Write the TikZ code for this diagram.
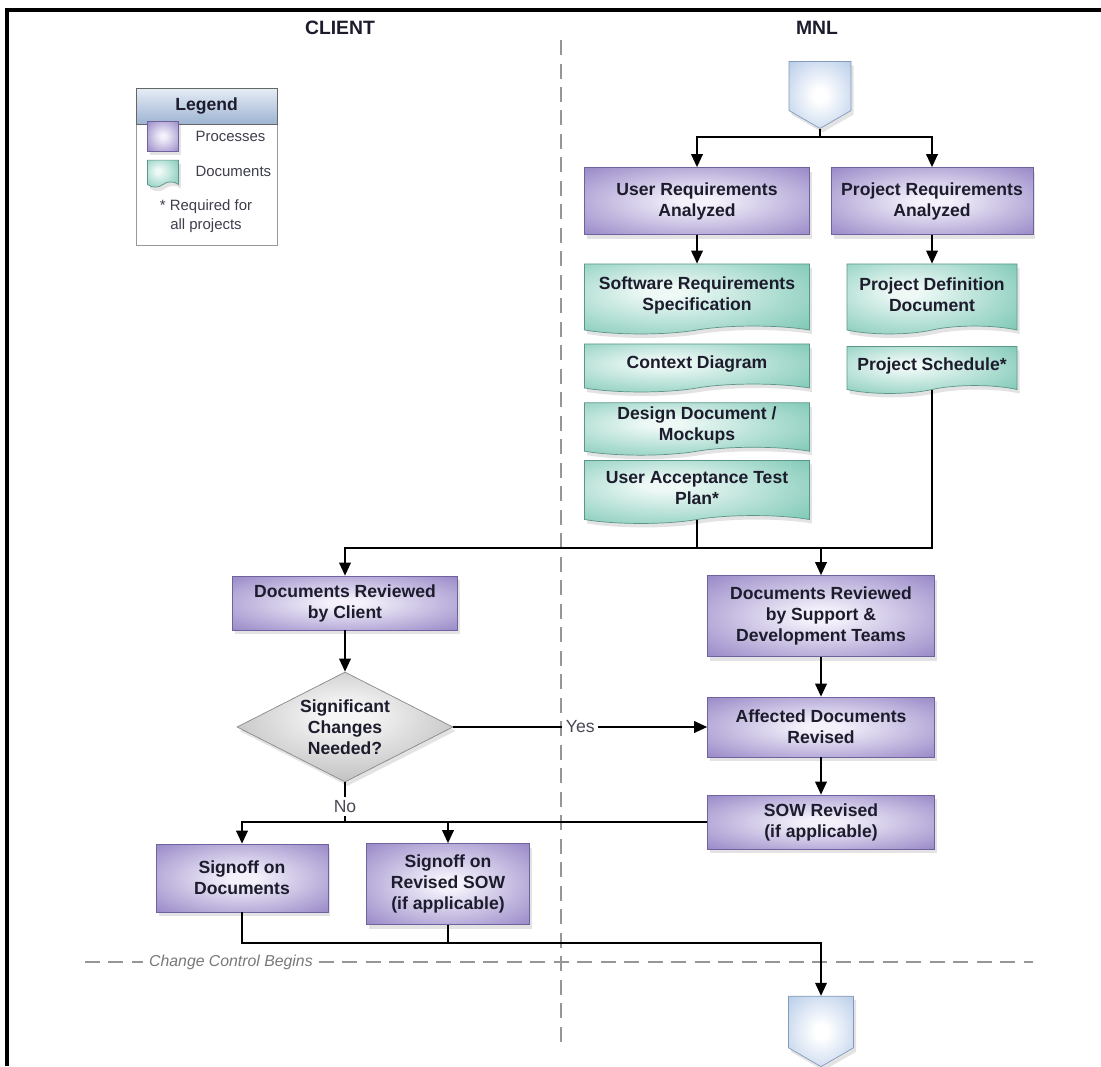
\documentclass[tikz,border=0pt]{standalone}
\usepackage{fontspec}
\setmainfont{Liberation Sans}
\usetikzlibrary{arrows.meta,positioning,calc,shapes.geometric,shapes.symbols,shadows}
\definecolor{procout}{RGB}{140,122,192}
\definecolor{procin}{RGB}{244,241,251}
\definecolor{procline}{RGB}{112,98,158}
\definecolor{docout}{RGB}{112,194,174}
\definecolor{docin}{RGB}{238,249,246}
\definecolor{docline}{RGB}{92,150,136}
\definecolor{qout}{RGB}{160,160,160}
\definecolor{qin}{RGB}{246,246,246}
\definecolor{termout}{RGB}{160,188,226}
\definecolor{termline}{RGB}{132,154,186}
\definecolor{lanecol}{RGB}{150,150,150}
\definecolor{ink}{RGB}{28,28,45}
\definecolor{hdtop}{RGB}{230,237,246}
\definecolor{hdbot}{RGB}{158,180,210}
\pgfdeclareradialshading{procglow}{\pgfpoint{0bp}{0bp}}{color(0bp)=(procin); color(4bp)=(procin); color(40bp)=(procout); color(75bp)=(procout)}
\pgfdeclareradialshading{docglow}{\pgfpoint{-8bp}{6bp}}{color(0bp)=(docin); color(4bp)=(docin); color(42bp)=(docout); color(75bp)=(docout)}
\pgfdeclareradialshading{qglow}{\pgfpoint{0bp}{6bp}}{color(0bp)=(qin); color(5bp)=(qin); color(44bp)=(qout); color(75bp)=(qout)}
\pgfdeclareradialshading{termglow}{\pgfpoint{0bp}{0bp}}{color(0bp)=(white); color(5bp)=(white); color(46bp)=(termout); color(75bp)=(termout)}
\tikzset{
  dshadow/.style={drop shadow={opacity=.22, shadow xshift=.5mm, shadow yshift=-.8mm}},
  proc/.style={rectangle, draw=procline, shading=procglow, dshadow, align=center, text=ink, font=\fontsize{10}{12}\selectfont\bfseries, minimum width=#1, inner sep=2pt},
  doc/.style={tape, tape bend top=none, tape bend bottom=in and out, tape bend height=4.5pt, draw=docline, shading=docglow, dshadow, align=center, text=ink, font=\fontsize{10}{12}\selectfont\bfseries, minimum width=#1, inner sep=2pt},
  decide/.style={diamond, aspect=2, draw=qout!85!black, shading=qglow, dshadow, align=center, text=ink, font=\fontsize{10}{12}\selectfont\bfseries, minimum width=4.32cm, minimum height=2.2cm, inner sep=0pt},
  term/.style={signal, signal to=south, signal from=nowhere, signal pointer angle=120, draw=termline, shading=termglow, dshadow, minimum width=1.24cm, minimum height=1.05cm},
  flow/.style={line width=1.1pt, -{Triangle[length=2.6mm,width=2.3mm]}},
  link/.style={line width=1.1pt},
  lane/.style={lanecol, line width=.8pt, dash pattern=on 3mm off 1.7mm},
  lbl/.style={fill=white, inner sep=2pt, text=ink!80, font=\fontsize{10}{12}\selectfont},
  lanehd/.style={font=\fontsize{11}{13}\selectfont\bfseries, text=ink},
  keytxt/.style={font=\fontsize{8.5}{10.5}\selectfont, text=ink!85},
}
\begin{document}
\begin{tikzpicture}[x=0.02cm, y=-0.02cm]
  \useasboundingbox (0,0) rectangle (1101,1066);
  \draw[line width=2pt] (7,1066) -- (7,10) -- (1101,10);
  % swim lanes
  \node[lanehd] (client) at (340,28) {CLIENT};
  \node[lanehd] (mnl) at (817,28) {MNL};
  \draw[lane] (561,40) -- (561,1045);
  % legend
  \node[draw=gray!80, fill=white, minimum width=2.82cm, minimum height=3.14cm] (legend) at (206.5,166.5) {};
  \node[draw=gray!80!black, top color=hdtop, bottom color=hdbot, minimum width=2.82cm, minimum height=0.72cm, anchor=north, font=\fontsize{10}{12}\selectfont\bfseries, text=ink] (leghd) at (legend.north) {Legend};
  \node[proc=0.62cm, minimum height=0.6cm] (keyproc) at (163,136) {};
  \node[doc=0.62cm, minimum height=0.54cm, tape bend height=3pt] (keydoc) at (163,171) {};
  \node[keytxt, right=6pt of keyproc] (keyproctxt) {Processes};
  \node[keytxt, right=6pt of keydoc] (keydoctxt) {Documents};
  \node[keytxt, align=center] (keynote) at (206,216) {* Required for\\all projects};
  % MNL analysis
  \node[term] (start) at (820,86) {};
  \node[proc=4.5cm, minimum height=1.34cm] (ura) at (697,201) {User Requirements\\Analyzed};
  \node[proc=4.04cm, minimum height=1.34cm] (pra) at (932,201) {Project Requirements\\Analyzed};
  \node[doc=4.5cm, minimum height=1.4cm] (srs) at (697,295) {Software Requirements\\Specification};
  \node[doc=4.5cm, minimum height=0.96cm] (ctx) at (697,364) {Context Diagram};
  \node[doc=4.5cm, minimum height=1.0cm] (ddm) at (697,425) {Design Document /\\Mockups};
  \node[doc=4.5cm, minimum height=1.26cm] (uat) at (697,488) {User Acceptance Test\\Plan*};
  \node[doc=3.4cm, minimum height=1.4cm] (pdd) at (932,295) {Project Definition\\Document};
  \node[doc=3.4cm, minimum height=0.94cm] (psch) at (932,366) {Project Schedule*};
  % review
  \node[proc=4.5cm, minimum height=1.08cm] (dbc) at (345,603) {Documents Reviewed\\by Client};
  \node[proc=4.54cm, minimum height=1.62cm] (dbs) at (821,616) {Documents Reviewed\\by Support \&\\Development Teams};
  \node[decide] (sig) at (345,727) {Significant\\Changes\\Needed?};
  \node[proc=4.54cm, minimum height=1.2cm] (adr) at (821,727) {Affected Documents\\Revised};
  \node[proc=4.54cm, minimum height=1.08cm] (sow) at (821,822) {SOW Revised\\(if applicable)};
  \node[proc=3.44cm, minimum height=1.36cm] (sod) at (242,878) {Signoff on\\Documents};
  \node[proc=3.26cm, minimum height=1.62cm] (sos) at (448,884) {Signoff on\\Revised SOW\\(if applicable)};
  \node[term, minimum width=1.3cm, minimum height=1.1cm] (stop) at (821,1022) {};
  % change control
  \node[anchor=west, font=\fontsize{9}{11}\selectfont\itshape, text=lanecol!80!black] (ccb) at (143,962) {Change Control Begins};
  \draw[lane] (85,962) -- (ccb.west);
  \draw[lane] (ccb.east) -- (1033,962);
  % connectors
  \coordinate (j1) at (820,137);
  \coordinate (j2) at (697,548);
  \coordinate (j3) at (345,822);
  \coordinate (j4) at (821,943);
  \draw[link] (start) -- (j1);
  \draw[flow] (j1) -| (ura);
  \draw[flow] (j1) -| (pra);
  \draw[flow] (ura) -- (srs);
  \draw[flow] (pra) -- (pdd);
  \draw[link] (uat) -- (j2);
  \draw[link] (psch) |- (j2);
  \draw[flow] (j2) -| (dbc);
  \draw[flow] (dbs.north |- j2) -- (dbs);
  \draw[flow] (dbc) -- (sig);
  \draw[flow] (dbs) -- (adr);
  \draw[flow] (sig) -- node[lbl]{Yes} (adr);
  \draw[flow] (adr) -- (sow);
  \draw[link] (sig) -- node[lbl, pos=.6]{No} (j3);
  \draw[flow] (sow.west) -| (sod);
  \draw[flow] (sos.north |- j3) -- (sos);
  \draw[link] (sos) -- (sos.south |- j4);
  \draw[flow] (sod) |- (j4) -- (stop);
\end{tikzpicture}
\end{document}
